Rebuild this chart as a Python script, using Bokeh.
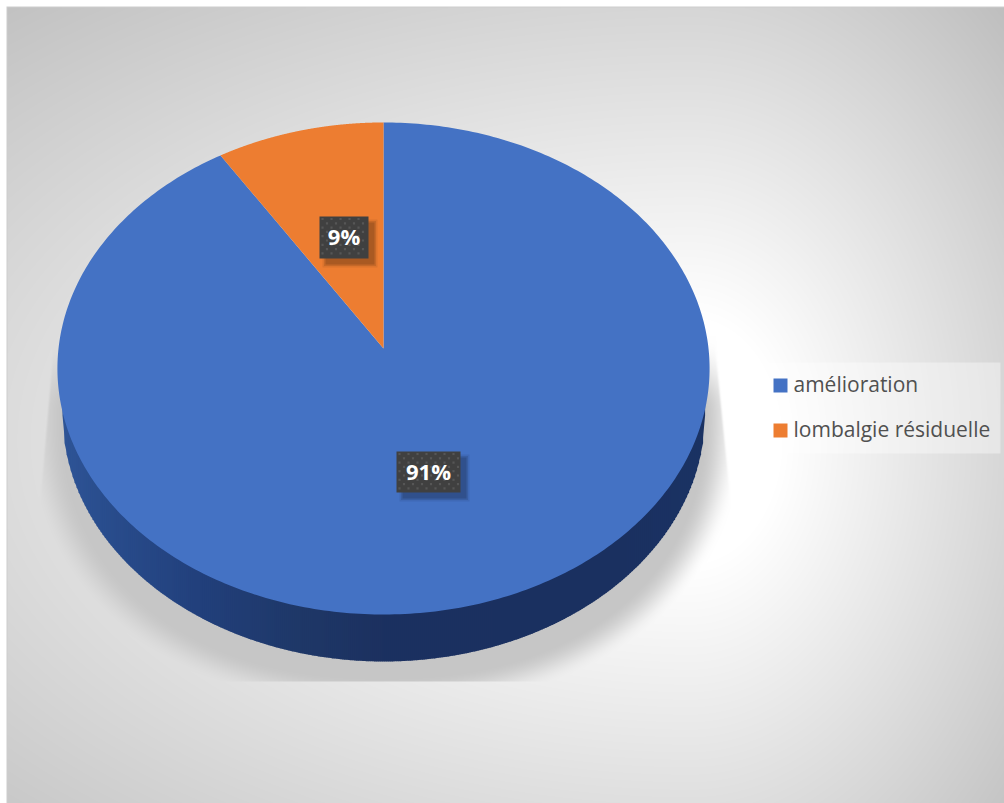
import numpy as np
from bokeh.embed import file_html
from bokeh.resources import INLINE
from bokeh.plotting import figure
from bokeh.core.properties import value

# Chart data
categories = ["amélioration", "lombalgie résiduelle"]
shares = [91, 9]
share_labels = ["91%", "9%"]
slice_colors = ["#4472C4", "#ED7D31"]

WIDTH, HEIGHT = 1004, 803

# Disc projection: tilted circle seen in perspective
CX, APEX_Y = 383.0, 348.0
SCALE_X, SCALE_Y, PERSP = 325.0, 216.1, -0.0813
FACE_CY, FACE_RX, FACE_RY = 368.0, 326.0, 246.0
BASE_CY, BASE_RX, BASE_RY = 415.0, 321.0, 246.0


def flip(y):
    return HEIGHT - np.asarray(y, dtype=float)


def project(theta):
    """Clockwise angle from twelve o'clock to screen position on the disc."""
    u, v = np.sin(theta), -np.cos(theta)
    w = 1 + PERSP * v
    return CX + SCALE_X * u / w, (APEX_Y + SCALE_Y * v) / w


def smoothstep(a, b, t):
    s = np.clip((t - a) / (b - a), 0, 1)
    return s * s * (3 - 2 * s)


def backdrop():
    """Off-centre radial grey wash with the disc's soft drop shadow."""
    yy, xx = np.mgrid[0:HEIGHT, 0:WIDTH].astype(float)
    dx = xx - 690.0
    dy = (yy - 440.0) / 1.35
    dx = np.where(dx < 0, dx / 2.4, dx)
    d = np.hypot(dx, dy)
    grey = 255 - np.maximum(0, 0.18 * (d - 92))

    t = (np.abs(xx - CX) / 355.0) ** 2.2 + (np.abs(yy - 420.0) / 285.0) ** 2.2
    a = 1 - smoothstep(0.78, 1.02, t)
    right = np.minimum(730, 717 + 13 * (yy - 360) / 130)
    left = np.maximum(37, 50 - 13 * (yy - 360) / 150)
    a = a * smoothstep(0, 3, right - xx) * smoothstep(0, 3, xx - left)
    a = a * smoothstep(335, 410, yy)
    a = np.where(yy > 680, 0, a)
    grey = grey * (1 - a) + 198 * a

    # page margin and hairline frame
    grey = np.where((xx < 7) | (yy < 7), 205, grey)
    grey = np.where((xx < 6) | (yy < 6), 255, grey)
    g = grey.astype(np.uint32)
    rgba = (255 << 24) | (g << 16) | (g << 8) | g
    return np.flipud(rgba).astype(np.uint32)


p = figure(width=WIDTH, height=HEIGHT, x_range=(0, WIDTH), y_range=(0, HEIGHT),
           output_backend="svg", toolbar_location=None, min_border=0)
p.axis.visible = False
p.grid.visible = False
p.outline_line_color = None
p.background_fill_color = "white"
p.border_fill_color = "white"

p.image_rgba(image=[backdrop()], x=0, y=0, dw=WIDTH, dh=HEIGHT)

# Extruded wall of the disc, shaded left to right
stops_x = [60, 100, 200, 300, 383, 600, 705]
stops_c = [(47, 85, 151), (42, 78, 142), (34, 64, 124), (31, 56, 104),
           (28, 49, 96), (26, 48, 96), (26, 51, 100)]
edges = np.arange(CX - BASE_RX, CX + BASE_RX + 2, 2.0)
edges = np.clip(edges, CX - BASE_RX, CX + BASE_RX)
low = BASE_CY + BASE_RY * np.sqrt(np.maximum(0, 1 - ((edges - CX) / BASE_RX) ** 2))
xs_wall, ys_wall, cols_wall = [], [], []
for i in range(len(edges) - 1):
    x0, x1 = edges[i], edges[i + 1] + 0.6
    xs_wall.append([x0, x1, x1, x0])
    ys_wall.append(list(flip([FACE_CY, FACE_CY, low[i + 1], low[i]])))
    mid = (x0 + x1) / 2
    c = [int(np.interp(mid, stops_x, [s[k] for s in stops_c])) for k in range(3)]
    cols_wall.append("#%02x%02x%02x" % tuple(c))
p.patches(xs_wall, ys_wall, fill_color=cols_wall, line_color=None)

# Top face slices. The second category sits just left of twelve o'clock.
total = sum(shares)
sweep = [2 * np.pi * s / total for s in shares]
bounds = [(0.0, sweep[0]), (sweep[0], sweep[0] + sweep[1])]
for (a0, a1), color in zip(bounds, slice_colors):
    th = np.linspace(a0, a1, 400)
    rx, ry = project(th)
    p.patch(np.r_[CX, rx], flip(np.r_[APEX_Y, ry]), fill_color=color, line_color=None)

# Data label plates: centre position per label
label_x = [428.0, 343.5]
label_y = [471.5, 237.0]
plate_w = [64.0, 49.0]
plate_h = [41.0, 42.0]
for lx, ly, w, h, lab in zip(label_x, label_y, plate_w, plate_h, share_labels):
    for grow, alpha in [(6, 0.07), (3, 0.10), (0, 0.14)]:
        p.rect(lx + 6, flip(ly + 6), width=w + grow, height=h + grow,
               fill_color="black", fill_alpha=alpha, line_color=None)
    p.rect(lx, flip(ly), width=w, height=h, fill_color="#404040", line_color=None)
    dots_x, dots_y = [], []
    for r, yy in enumerate(np.arange(ly - h / 2 + 2.5, ly + h / 2 - 1, 4.3)):
        shift = 0 if r % 2 == 0 else 4.5
        for xx in np.arange(lx - w / 2 + 3 + shift, lx + w / 2 - 1, 9.0):
            dots_x.append(xx)
            dots_y.append(yy)
    p.scatter(dots_x, flip(dots_y), marker="square", size=2.2,
              fill_color="#565656", line_color=None)
    p.text([lx], flip([ly - 1.5]), text=[lab], text_color="white",
           text_font=value("Open Sans"), text_font_style="bold", text_font_size="22px",
           text_align="center", text_baseline="middle")

# Legend panel
p.quad(left=[761], right=[1000], top=flip([362]), bottom=flip([453]),
       fill_color="white", fill_alpha=0.38, line_color=None)
legend_y = [385.0, 430.0]
for name, color, ly in zip(categories, slice_colors, legend_y):
    p.rect([780], flip([ly]), width=14, height=14, fill_color=color, line_color=None)
    p.text([793], flip([ly - 1.5]), text=[name], text_color="#505050",
           text_font=value("Open Sans"), text_font_size="21px",
           text_align="left", text_baseline="middle")

open("out.html", "w").write(file_html(p, INLINE))
